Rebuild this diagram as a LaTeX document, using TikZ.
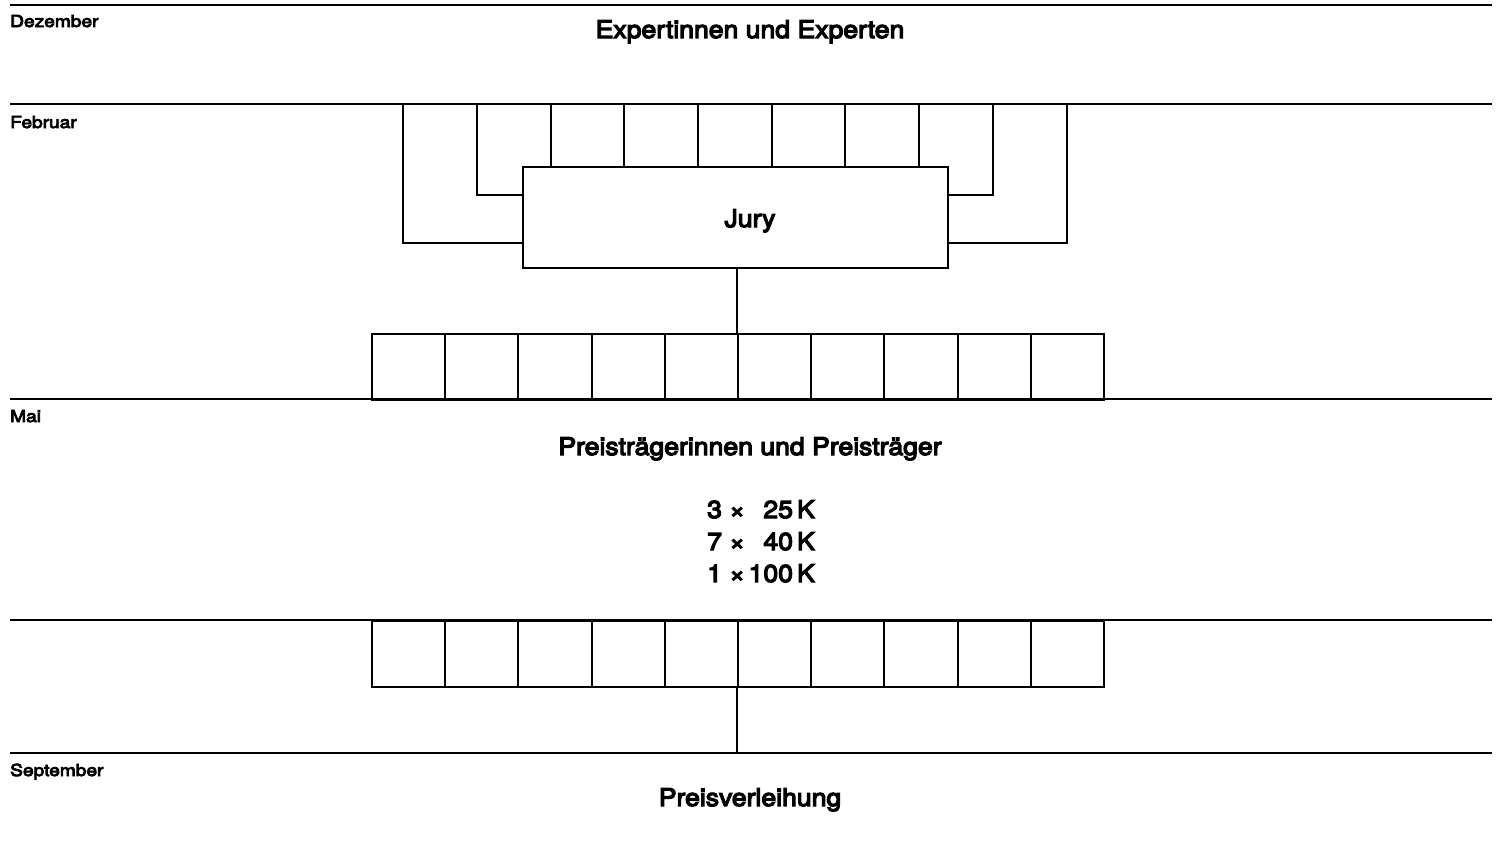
\documentclass[tikz,border=0pt]{standalone}
\usepackage{fontspec}
\newfontfamily\bigf[FakeStretch=1.09,FakeBold=5]{TeX Gyre Heros}
\newfontfamily\smallf[FakeStretch=1.16,FakeBold=5]{TeX Gyre Heros}
\begin{document}
\begin{tikzpicture}[x=1pt,y=-1pt,
  monthline/.style={line width=2.6pt},
  conn/.style={line width=2pt},
  cell/.style={draw,line width=2pt,rectangle,minimum width=73.2pt,minimum height=66pt,inner sep=0pt,anchor=north west},
  jurybox/.style={draw,line width=2pt,rectangle,minimum width=425pt,minimum height=101pt,inner sep=0pt,fill=white},
  bigtxt/.style={font=\bigf\fontsize{24.4}{29}\selectfont,inner sep=0pt,anchor=base},
  smalltxt/.style={font=\smallf\fontsize{16.5}{20}\selectfont,inner sep=0pt,anchor=base west},
]
\useasboundingbox (0,0) rectangle (1501,852);

% month lines
\coordinate (m1a) at (10,5);   \coordinate (m1b) at (1492,5);
\coordinate (m2a) at (10,104); \coordinate (m2b) at (1492,104);
\coordinate (m3a) at (10,399); \coordinate (m3b) at (1492,399);
\coordinate (m4a) at (10,620); \coordinate (m4b) at (1492,620);
\coordinate (m5a) at (10,753); \coordinate (m5b) at (1492,753);

% labels
\node[smalltxt] (dez) at (10,27) {Dezember};
\node[smalltxt] (feb) at (10,128) {Februar};
\node[smalltxt] (mai) at (10,422) {Mai};
\node[smalltxt] (sep) at (10,776) {September};

\node[bigtxt] (exp) at (750,38) {Expertinnen und Experten};
\node[bigtxt] (preis) at (750,455) {Preisträgerinnen und Preisträger};
\node[bigtxt] (verl) at (750,806) {Preisverleihung};

% amounts
\node[bigtxt,anchor=base west] (n1a) at (707,518) {3 ×};
\node[bigtxt,anchor=base east] (n1b) at (815,518) {25\,K};
\node[bigtxt,anchor=base west] (n2a) at (707,550) {7 ×};
\node[bigtxt,anchor=base east] (n2b) at (815,550) {40\,K};
\node[bigtxt,anchor=base west] (n3a) at (707,582) {1 ×};
\node[bigtxt,anchor=base east] (n3b) at (815,582) {100\,K};

% upper connectors from February line
\foreach \i/\x in {1/403,2/477,3/551,4/624,5/698,6/772,7/845,8/919,9/993,10/1067}
  \coordinate (u\i) at (\x,104);
\coordinate (yb1) at (0,243);
\coordinate (yb2) at (0,195);

% jury
\node[jurybox] (jury) at (735.5,217.5) {};
\node[bigtxt] (jurytxt) at (750,227) {Jury};

\foreach \i in {3,...,8}
  \draw[conn] (u\i) -- (u\i |- jury.north);
\draw[conn] (u2) |- (jury.west |- yb2);
\draw[conn] (u1) |- (jury.west |- yb1);
\draw[conn] (u9) |- (jury.east |- yb2);
\draw[conn] (u10) |- (jury.east |- yb1);

% row of boxes after jury
\foreach \i in {1,...,10}
  \node[cell] (b\i) at ({371+(\i-1)*73.2},333) {};
% row of boxes before award
\foreach \i in {1,...,10}
  \node[cell] (c\i) at ({371+(\i-1)*73.2},620) {};

\draw[conn] (jury.south -| b6.north west) -- (b6.north west);
\draw[conn] (c6.south west) -- (c6.south west |- m5a);

\draw[monthline] (m1a) -- (m1b);
\draw[monthline] (m2a) -- (m2b);
\draw[monthline] (m3a) -- (m3b);
\draw[conn] (m4a) -- (m4b);
\draw[monthline] (m5a) -- (m5b);
\end{tikzpicture}
\end{document}
